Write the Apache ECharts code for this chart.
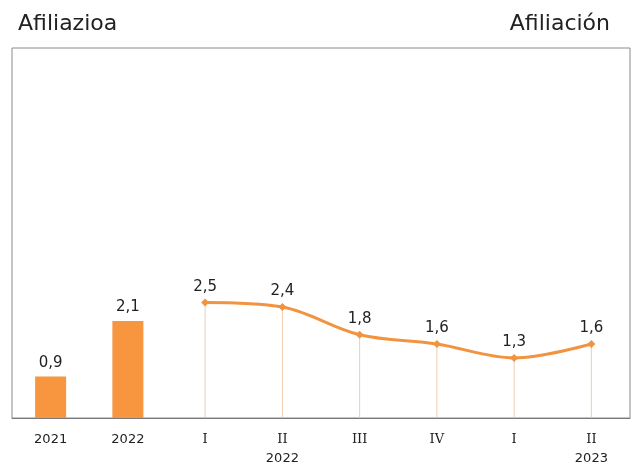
<!DOCTYPE html>
<html>
<head>
<meta charset="utf-8">
<script src="https://cdn.jsdelivr.net/npm/echarts@6/dist/echarts.min.js"></script>
<style>
  html, body { margin: 0; padding: 0; background: #fff; }
  #chart { width: 637px; height: 468px; }
</style>
</head>
<body>
<div id="chart"></div>
<script>
// Yearly totals, then quarterly rates
const categories = ['2021', '2022', 'I', 'II', 'III', 'IV', 'I', 'II'];
const yearNotes = ['', '', '', '2022', '', '', '', '2023'];
const annualValues = [0.9, 2.1, '-', '-', '-', '-', '-', '-'];
const quarterValues = ['-', '-', 2.5, 2.4, 1.8, 1.6, 1.3, 1.6];

const fmt = v => String(v).replace('.', ',');
const orange = '#F7963F';
const lineOrange = '#F29340';

const chart = echarts.init(document.getElementById('chart'), null, { renderer: 'canvas' });

chart.setOption({
  animation: false,
  textStyle: { fontFamily: 'DejaVu Sans' },
  title: [
    { text: 'Afiliazioa', left: 13, top: 8,
      textStyle: { fontSize: 22, fontWeight: 'normal', color: '#222', fontFamily: 'DejaVu Sans' } },
    { text: 'Afiliación', right: 22, top: 8,
      textStyle: { fontSize: 22, fontWeight: 'normal', color: '#222', fontFamily: 'DejaVu Sans' } }
  ],
  grid: {
    left: 12, right: 7, top: 48, bottom: 50,
    show: true, borderColor: '#8a8a8a', borderWidth: 1
  },
  xAxis: [
    {
      type: 'category',
      data: categories,
      boundaryGap: true,
      axisLine: { show: true, lineStyle: { color: '#7a7a7a', width: 1 } },
      axisTick: { show: false },
      axisLabel: {
        interval: 0,
        margin: 12,
        formatter: (v, i) => {
          const roman = /^[IV]+$/.test(v);
          const head = roman ? '{r|' + v + '}' : '{n|' + v + '}';
          return yearNotes[i] ? head + '\n{n|' + yearNotes[i] + '}' : head;
        },
        rich: {
          n: { fontFamily: 'DejaVu Sans', fontSize: 13, color: '#222', lineHeight: 19 },
          r: { fontFamily: 'DejaVu Serif', fontSize: 13, color: '#222', lineHeight: 19 }
        }
      }
    },
    {
      // companion axis so the thin guides get their own bar layout
      type: 'category',
      data: categories,
      boundaryGap: true,
      show: false
    }
  ],
  yAxis: {
    type: 'value',
    min: 0, max: 8,
    show: false,
    splitLine: { show: false }
  },
  series: [
    {
      name: 'guide',
      type: 'bar',
      xAxisIndex: 1,
      data: quarterValues,
      barWidth: 1,
      itemStyle: { color: '#F0CCAE' },
      silent: true,
      z: 1
    },
    {
      name: 'annual',
      type: 'bar',
      xAxisIndex: 0,
      data: annualValues,
      barWidth: 31,
      itemStyle: { color: orange },
      label: {
        show: true, position: 'top', distance: 6,
        formatter: p => fmt(p.value),
        fontSize: 15, color: '#222', fontFamily: 'DejaVu Sans'
      }
    },
    {
      name: 'quarterly',
      type: 'line',
      xAxisIndex: 0,
      data: quarterValues,
      smooth: 0.35,
      symbol: 'diamond',
      symbolSize: 8,
      lineStyle: { color: lineOrange, width: 3 },
      itemStyle: { color: lineOrange },
      label: {
        show: true, position: 'top', distance: 4,
        formatter: p => fmt(p.value),
        fontSize: 15, color: '#222', fontFamily: 'DejaVu Sans'
      },
      z: 5
    }
  ]
});
</script>
</body>
</html>
